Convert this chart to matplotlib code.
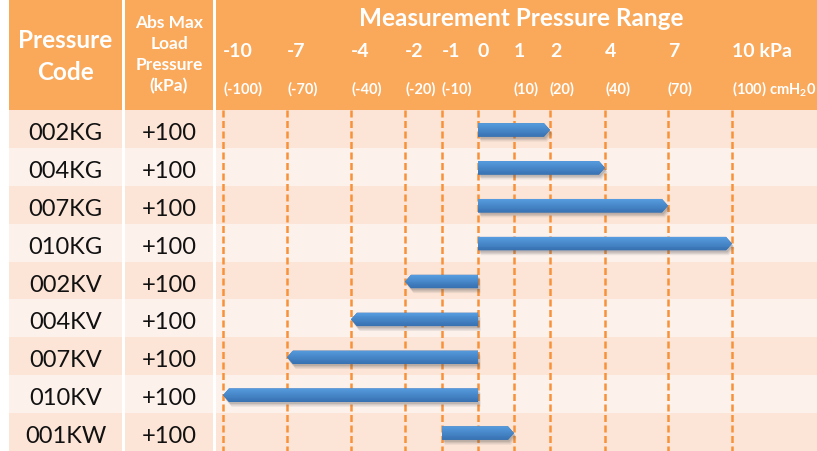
import numpy as np
import matplotlib
matplotlib.use('Agg')
import matplotlib.pyplot as plt
import matplotlib.patches as mpatches
import matplotlib.patheffects as pe

plt.rcParams['font.family']=['Lato','DejaVu Sans']

# data
codes=['002KG','004KG','007KG','010KG','002KV','004KV','007KV','010KV','001KW']
abs_max=['+100','+100','+100','+100','+100','+100','+100','+100','+100']
range_lo=[0,0,0,0,-2,-4,-7,-10,-1]
range_hi=[2,4,7,10,0,0,0,0,1]
tip_side=['right','right','right','right','left','left','left','left','right']
kpa_ticks=[-10,-7,-4,-2,-1,0,1,2,4,7,10]
kpa_labels=['-10','-7','-4','-2','-1','0','1','2','4','7','10 kPa']
cm_labels=['(-100)','(-70)','(-40)','(-20)','(-10)','','(10)','(20)','(40)','(70)',r'(100) cmH$\mathregular{_2}$0']
abs_head=['Abs Max','Load','Pressure','(kPa)']

# colours
orange='#FAA85A'
row_dark='#FCE4D6'
row_light='#FDF1EC'
dash_col='#F7923A'
bar_top=np.array([0x55,0x9B,0xDE])/255
bar_bot=np.array([0x38,0x72,0xB2])/255

# layout in pixels
W,H=817,451
head_h=110
row_h=(H-head_h)/len(codes)
# pixel position of each kPa tick inside the range column (the range axis is not linear)
tick_px=[7,71,135,189,226,262,298,334,389,452,516]
slope=64/3
kx=np.array([-20]+kpa_ticks+[20],float)
kp=np.array([tick_px[0]-10*slope]+tick_px+[tick_px[-1]+10*slope],float)
fwd=lambda v: np.interp(v,kx,kp)
inv=lambda p: np.interp(p,kp,kx)

def yp(px):
    return (px-head_h)/row_h

fig=plt.figure(figsize=(W/100,H/100),dpi=100)

def add_col(x0,x1):
    a=fig.add_axes([x0/W,0,(x1-x0)/W,1])
    a.set_ylim(len(codes),-head_h/row_h)
    a.axis('off')
    a.axhspan(-head_h/row_h,0,color=orange,lw=0,zorder=0)
    for i in range(len(codes)):
        a.axhspan(i,i+1,color=row_dark if i%2==0 else row_light,lw=0,zorder=0)
    return a

ax_code=add_col(9,122)
ax_abs=add_col(125,213)
ax=add_col(216,817)
ax_code.set_xlim(0,1)
ax_abs.set_xlim(0,1)
ax.set_xscale('function',functions=(fwd,inv))
ax.set_xlim(float(inv(0)),float(inv(601)))

# header
ax_code.text(0.5,yp(48),'Pressure',ha='center',va='baseline',color='white',fontsize=17.5,fontweight='bold')
ax_code.text(0.5,yp(80),'Code',ha='center',va='baseline',color='white',fontsize=17.5,fontweight='bold')
for j,s in enumerate(abs_head):
    ax_abs.text(0.5,yp(28+21*j),s,ha='center',va='baseline',color='white',fontsize=12.5,fontweight='bold')
ax.text(305/601,yp(26),'Measurement Pressure Range',transform=ax.get_yaxis_transform(),
        ha='center',va='baseline',color='white',fontsize=17.5,fontweight='bold')
for v,lab,cm in zip(kpa_ticks,kpa_labels,cm_labels):
    ax.text(v,yp(57),lab,ha='left',va='baseline',color='white',fontsize=14,fontweight='bold')
    if cm:
        ax.text(v,yp(94),cm,ha='left',va='baseline',color='white',fontsize=10.5,fontweight='bold')

# rows
for i,(c,a) in enumerate(zip(codes,abs_max)):
    ax_code.text(0.5,i+30/row_h,c,ha='center',va='baseline',fontsize=17,color='#111111')
    ax_abs.text(0.5,i+30/row_h,a,ha='center',va='baseline',fontsize=17,color='#111111')

# dashed grid
ax.vlines(kpa_ticks,0,len(codes),colors=dash_col,linewidth=1.8,linestyles=(0,(2.8,1.4)),zorder=2)

# range bars
bar_h=13.5/row_h
tip=6
shadow=[pe.SimplePatchShadow(offset=(1,-1.5),shadow_rgbFace='#555555',alpha=0.18),
        pe.SimplePatchShadow(offset=(1.5,-2.5),shadow_rgbFace='#555555',alpha=0.15),
        pe.SimplePatchShadow(offset=(2,-3.5),shadow_rgbFace='#555555',alpha=0.1),
        pe.Normal()]
n=14
for i,(lo,hi,side) in enumerate(zip(range_lo,range_hi,tip_side)):
    yc=i+0.5+1/row_h
    top,bot=yc-bar_h/2,yc+bar_h/2
    x0,x1=fwd(lo),fwd(hi)
    if side=='right':
        pts=[(x0,top),(x1-tip,top),(x1,yc),(x1-tip,bot),(x0,bot)]
    else:
        pts=[(x0,yc),(x0+tip,top),(x1,top),(x1,bot),(x0+tip,bot)]
    pts=[(float(inv(p)),y) for p,y in pts]
    poly=mpatches.Polygon(pts,closed=True,facecolor=bar_bot,edgecolor='none',zorder=3,path_effects=shadow)
    ax.add_patch(poly)
    for k in range(n):
        col=bar_top+(bar_bot-bar_top)*k/(n-1)
        r=mpatches.Rectangle((lo,top+k*bar_h/n),hi-lo,bar_h/n*1.1,facecolor=col,lw=0,zorder=4)
        r.set_clip_path(poly)
        ax.add_patch(r)

plt.savefig('out.png',dpi=100)
